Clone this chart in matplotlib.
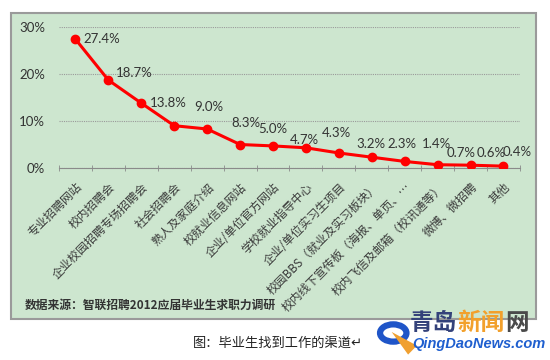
import matplotlib.pyplot as plt
from matplotlib.patches import Rectangle, Circle, Polygon
from matplotlib.ticker import FixedLocator, PercentFormatter

plt.rcParams['font.family'] = ['Noto Sans CJK SC', 'DejaVu Sans']

channels = ['专业招聘网站', '校内招聘会', '企业校园招聘专场招聘会', '社会招聘会',
            '熟人及家庭介绍', '校就业信息网站', '企业/单位官方网站', '学校就业指导中心',
            '企业/单位实习生项目', '校园BBS（就业及实习板块）', '校内线下宣传板（海报、单页、…',
            '校内飞信及邮箱（校讯通等）', '微博、微招聘', '其他']
share = [27.4, 18.7, 13.8, 9.0, 8.3, 5.0, 4.7, 4.3, 3.2, 2.3, 1.4, 0.7, 0.6, 0.4]
# the original chart's value labels sit shifted from their points (pixels)
label_dx = [26, 26, 27, 35, 39, 33, 31, 31, 32, 30, 32, 24, 21, 14]
label_dy = [0, 7, 0, 19, 6, 16, 6, 15, 9, 13, 17, 12, 12, 14]

source = '数据来源：智联招聘2012应届毕业生求职力调研'
caption = '图：毕业生找到工作的渠道↵'

fig = plt.figure(figsize=(5.5, 3.6), dpi=100)
fig.patch.set_facecolor('white')

# green chart area with grey border
fig.add_artist(Rectangle((0.02, 0.114), 0.955, 0.85, transform=fig.transFigure,
                         facecolor='#cde6cf', edgecolor='#9a9a9a', lw=1.5, zorder=0))

ax = fig.add_axes([0.1073, 0.5333, 0.838, 0.3917])
ax.set_facecolor('none')
x = list(range(len(share)))
ax.plot(x, share, color='#ff0000', lw=2.2, marker='o', markersize=6, zorder=3)

for i, v in enumerate(share):
    ax.annotate(f'{v:.1f}%', (i, v), xytext=(label_dx[i], label_dy[i]),
                textcoords='offset pixels', ha='center', va='center',
                fontsize=9.5, color='#333333', family=['Lato'])

ax.set_xlim(-0.5, len(share) - 0.5)
ax.set_ylim(0, 30)
ax.yaxis.set_major_locator(FixedLocator([0, 10, 20, 30]))
ax.yaxis.set_major_formatter(PercentFormatter(decimals=0))
ax.grid(axis='y', color='#9a9a9a', linestyle=(0, (1, 1)), lw=0.8)
ax.tick_params(axis='y', length=0, pad=10, labelsize=9.5, labelcolor='#333333')
for lab in ax.get_yticklabels():
    lab.set_family(['Lato'])
for s in ['top', 'right', 'left']:
    ax.spines[s].set_visible(False)
ax.spines['bottom'].set_color('#8a8a8a')

ax.set_xticks(x)
ax.set_xticklabels(channels, rotation=45, ha='right', va='top',
                   rotation_mode='anchor', fontsize=8.5, color='#3a3a3a')
ax.tick_params(axis='x', which='major', length=0, pad=9)
ax.set_xticks([i - 0.5 for i in range(len(share) + 1)], minor=True)
ax.tick_params(axis='x', which='minor', length=4, direction='inout', color='#8a8a8a')

fig.text(0.045, 0.153, source, fontsize=8.5, fontweight='bold', color='#333333',
         va='center', ha='left')
fig.text(0.35, 0.047, caption, fontsize=9.5, color='#222222', va='center', ha='left')

# QingDaoNews logo
fig.add_artist(Circle((0.715, 0.075), 0.024, transform=fig.transFigure,
                      facecolor='white', edgecolor='#1f55c8', lw=4.5, zorder=5))
fig.add_artist(Polygon([(0.712, 0.078), (0.742, 0.015), (0.758, 0.04)],
                       transform=fig.transFigure, facecolor='#f0a030',
                       edgecolor='none', zorder=6))
fig.text(0.745, 0.103, '青岛', fontsize=17, fontweight='bold', color='#34427a',
         va='center', ha='left', zorder=7)
fig.text(0.831, 0.103, '新闻', fontsize=17, fontweight='bold', color='#f2a02c',
         va='center', ha='left', zorder=7)
fig.text(0.918, 0.103, '网', fontsize=17, fontweight='bold', color='#4a4a4a',
         va='center', ha='left', zorder=7)
fig.text(0.75, 0.045, 'QingDaoNews.com', fontsize=10.5, fontweight='bold',
         style='italic', color='#1f5fcf', va='center', ha='left',
         family=['Liberation Sans'], zorder=7)

fig.savefig('out.png', dpi=100)
